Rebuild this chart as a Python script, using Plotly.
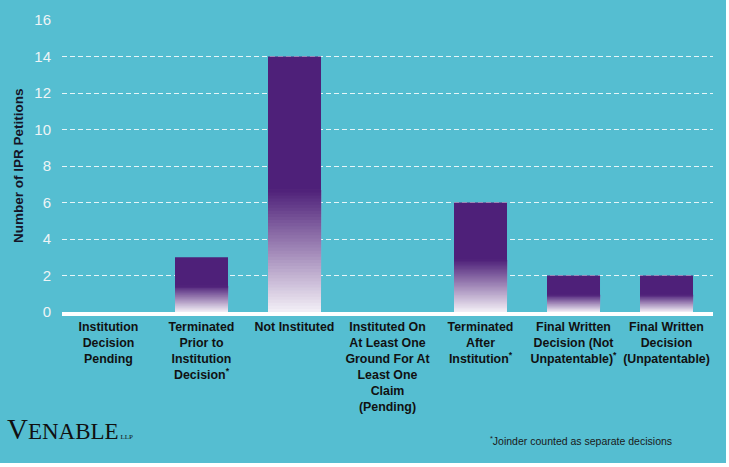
import plotly.graph_objects as go

categories = [
    "Institution<br>Decision<br>Pending",
    "Terminated<br>Prior to<br>Institution<br>Decision<sup>*</sup>",
    "Not Instituted",
    "Instituted On<br>At Least One<br>Ground For At<br>Least One<br>Claim<br>(Pending)",
    "Terminated<br>After<br>Institution<sup>*</sup>",
    "Final Written<br>Decision (Not<br>Unpatentable)<sup>*</sup>",
    "Final Written<br>Decision<br>(Unpatentable)",
]
values = [0, 3, 14, 0, 6, 2, 2]
y_ticks = [0, 2, 4, 6, 8, 10, 12, 14, 16]

BG = "#55BED1"
PURPLE = (78, 32, 121)
LIGHT = (244, 240, 247)
GRAD_FRAC = 0.48
N_SEG = 40
BAR_W = 0.57

fig = go.Figure()
xs = list(range(len(categories)))


def mix(t):
    r = int(LIGHT[0] + (PURPLE[0] - LIGHT[0]) * t)
    g = int(LIGHT[1] + (PURPLE[1] - LIGHT[1]) * t)
    b = int(LIGHT[2] + (PURPLE[2] - LIGHT[2]) * t)
    return f"rgb({r},{g},{b})"


# full solid bar
fig.add_trace(go.Bar(
    x=xs, y=values, width=BAR_W,
    marker=dict(color=mix(1.0), line=dict(width=0)),
    showlegend=False,
))
# gradient overlay, each segment runs to the gradient top so no seams show
for i in range(N_SEG):
    t = (i + 0.5) / N_SEG
    fig.add_trace(go.Bar(
        x=xs,
        y=[v * GRAD_FRAC * (1 - i / N_SEG) for v in values],
        base=[v * GRAD_FRAC * i / N_SEG for v in values],
        width=BAR_W,
        marker=dict(color=mix(t), line=dict(width=0)),
        hoverinfo="skip",
        showlegend=False,
    ))

bold_ticks = ["<br>".join(f"<b>{s}</b>" for s in c.split("<br>")) for c in categories]

fig.update_layout(
    width=726, height=463,
    paper_bgcolor=BG, plot_bgcolor=BG,
    barmode="overlay",
    margin=dict(l=62, r=13, t=20, b=151),
    font=dict(family="Liberation Sans, Arial, sans-serif"),
    xaxis=dict(
        tickmode="array", tickvals=xs, ticktext=bold_ticks,
        range=[-0.5, len(categories) - 0.5],
        showgrid=False, zeroline=False,
        showline=True, linecolor="white", linewidth=4,
        tickfont=dict(size=12.4, color="#111111"),
        ticks="",
    ),
    yaxis=dict(
        range=[0, 16], tickvals=y_ticks,
        showgrid=True, gridcolor="rgba(255,255,255,0.85)", gridwidth=1, griddash="5px,3px",
        zeroline=False, showline=False, ticks="",
        tickfont=dict(size=15, color="#EEF4F6"),
        ticklabelstandoff=10,
    ),
    annotations=[
        dict(text="<b>Number of IPR Petitions</b>", textangle=-90,
             xref="paper", yref="paper", x=-0.0675, y=0.5, xanchor="center", yanchor="middle",
             showarrow=False, font=dict(size=13.5, color="#151528")),
        dict(text="<span style='font-size:29px'>V</span><span style='font-size:23px'>ENABLE</span><span style='font-size:7px'> LLP</span>",
             xref="paper", yref="paper", x=-0.088, y=-0.40, xanchor="left", yanchor="middle",
             showarrow=False, font=dict(family="Liberation Serif, Times New Roman, serif", color="#111111")),
        dict(text="<sup>*</sup>Joinder counted as separate decisions",
             xref="paper", yref="paper", x=0.654, y=-0.44, xanchor="left", yanchor="middle",
             showarrow=False, font=dict(size=10.5, color="#1a1a1a")),
    ],
)

fig.write_html("out.html", config={"displayModeBar": False},
               post_script="document.body.style.margin='0';")
